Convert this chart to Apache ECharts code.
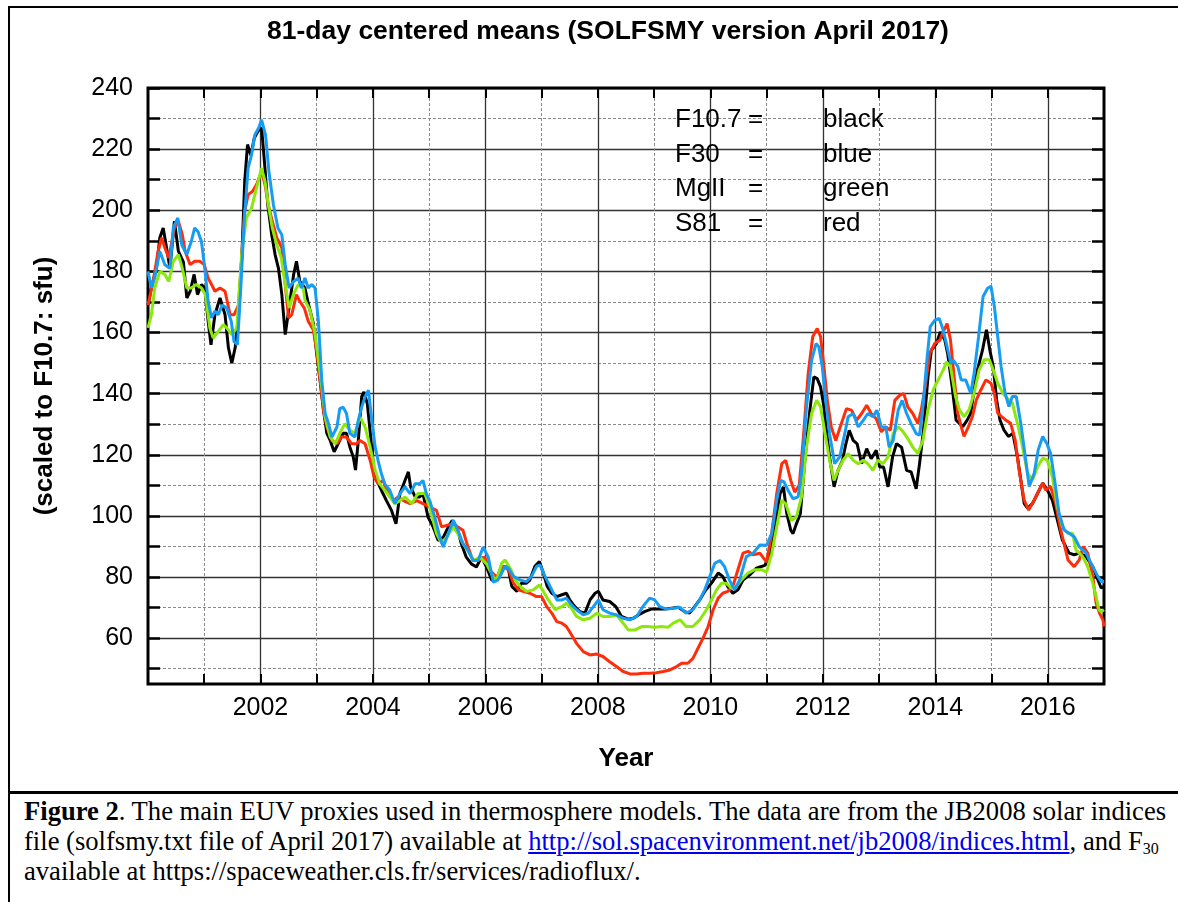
<!DOCTYPE html>
<html>
<head>
<meta charset="utf-8">
<script src="https://cdn.jsdelivr.net/npm/echarts@6/dist/echarts.min.js"></script>
<style>
  html, body { margin:0; padding:0; background:#fff; }
  #wrap { position:relative; width:1178px; height:902px; overflow:hidden; background:#fff; }
  #chart { position:absolute; left:0; top:0; width:1178px; height:790px; }
  #frame { position:absolute; left:8px; top:6px; width:1200px; height:920px; border-left:2px solid #000; border-top:2px solid #000; }
  #sep { position:absolute; left:8px; top:791px; width:1180px; height:3px; background:#000; }
  #cap { position:absolute; left:24px; top:796px; font-family:"Liberation Serif","Times New Roman",serif; font-size:26.6px; line-height:30px; white-space:nowrap; color:#000; }
  #cap a { color:#0000ee; text-decoration:underline; }
  #cap sub { font-size:16px; vertical-align:-4px; line-height:0; }
</style>
</head>
<body>
<div id="wrap">
  <div id="frame"></div>
  <div id="chart"></div>
  <div id="sep"></div>
  <div id="cap"><b>Figure 2</b>. The main EUV proxies used in thermosphere models. The data are from the JB2008 solar indices<br>file (solfsmy.txt file of April 2017) available at <a href="http://sol.spacenvironment.net/jb2008/indices.html">http://sol.spacenvironment.net/jb2008/indices.html</a>, and F<sub>30</sub><br>available at https://spaceweather.cls.fr/services/radioflux/.</div>
</div>
<script>
// ---- Data (year, value) ----
const f107 = [[2000.00,169],[2000.06,174.6],[2000.15,181],[2000.21,191],[2000.27,194.2],[2000.33,187.7],[2000.39,181],[2000.47,196.4],[2000.54,186.6],[2000.63,183],[2000.69,171.3],[2000.75,173.5],[2000.82,179],[2000.88,172.4],[2000.95,175.7],[2001.01,174.6],[2001.07,163.7],[2001.12,156],[2001.19,165.8],[2001.28,171.3],[2001.37,165.8],[2001.43,155],[2001.49,150],[2001.55,155],[2001.61,165.8],[2001.67,185.5],[2001.72,209.5],[2001.77,221.5],[2001.83,218],[2001.89,223.6],[2001.96,226],[2002.02,227],[2002.07,216],[2002.13,201.8],[2002.20,192],[2002.26,185.5],[2002.32,181],[2002.38,172.4],[2002.44,159.3],[2002.50,167],[2002.59,179],[2002.64,183.3],[2002.70,176.7],[2002.79,174.6],[2002.85,169.5],[2002.94,163],[2003.00,153],[2003.06,144.4],[2003.12,134.6],[2003.18,127],[2003.24,124.7],[2003.31,121],[2003.38,123.6],[2003.47,127],[2003.53,127],[2003.59,122.5],[2003.65,119.3],[2003.69,115],[2003.74,124.7],[2003.80,139],[2003.84,140.6],[2003.90,136.7],[2003.96,125.8],[2004.01,116],[2004.07,111.6],[2004.15,108.4],[2004.24,105],[2004.33,101.8],[2004.41,97.4],[2004.48,107.3],[2004.57,111.6],[2004.63,114.4],[2004.67,109.5],[2004.75,106.2],[2004.83,106.2],[2004.89,107.3],[2004.98,99.6],[2005.07,96.4],[2005.16,92],[2005.25,93],[2005.34,96.4],[2005.41,98.5],[2005.49,96.4],[2005.57,91],[2005.66,86.5],[2005.75,84.3],[2005.84,83.3],[2005.93,86.5],[2006.02,83.3],[2006.11,79],[2006.20,79],[2006.26,82.4],[2006.35,83.5],[2006.41,82.4],[2006.47,76.9],[2006.56,75.3],[2006.64,78],[2006.73,78],[2006.79,79],[2006.88,83.5],[2006.96,85.1],[2007.03,81.3],[2007.10,76.9],[2007.18,74.7],[2007.27,73.6],[2007.36,74.2],[2007.44,74.7],[2007.50,72.5],[2007.59,70.3],[2007.68,68.7],[2007.77,68.2],[2007.86,72.5],[2007.95,74.7],[2008.01,75.3],[2008.09,72.5],[2008.21,72],[2008.32,70.3],[2008.42,67.1],[2008.54,66.2],[2008.63,66.5],[2008.72,67.6],[2008.83,68.7],[2008.95,69.5],[2009.07,69.5],[2009.19,69.5],[2009.31,69.8],[2009.43,70.1],[2009.54,68.7],[2009.63,68.2],[2009.72,70.3],[2009.81,72.5],[2009.90,75.3],[2010.02,78],[2010.14,81.3],[2010.22,80.2],[2010.31,76.9],[2010.40,74.7],[2010.49,75.8],[2010.58,79],[2010.70,80.7],[2010.82,82.9],[2010.88,83.3],[2010.97,83.8],[2011.06,87.6],[2011.15,96.4],[2011.24,107.3],[2011.30,109.5],[2011.36,100.7],[2011.43,95.3],[2011.47,94.2],[2011.53,97.4],[2011.60,100.7],[2011.68,118.2],[2011.77,134.6],[2011.84,145.5],[2011.90,144.9],[2011.96,142.2],[2012.02,135.7],[2012.07,126.9],[2012.12,119.3],[2012.20,109.5],[2012.27,114.9],[2012.35,118.2],[2012.41,123.6],[2012.47,128],[2012.54,124.7],[2012.61,123.6],[2012.69,117.1],[2012.78,122],[2012.86,118.7],[2012.95,121.5],[2013.01,116],[2013.08,116],[2013.16,109.5],[2013.24,119.3],[2013.31,123.6],[2013.40,122.5],[2013.49,114.9],[2013.57,114.4],[2013.66,108.9],[2013.72,117.1],[2013.79,128],[2013.87,145.5],[2013.93,154.2],[2014.02,156.4],[2014.09,160.2],[2014.17,157.5],[2014.22,153.1],[2014.30,142.2],[2014.37,131.3],[2014.49,129.2],[2014.57,131.4],[2014.63,133.6],[2014.69,141.2],[2014.75,147.8],[2014.84,154.3],[2014.91,160.9],[2014.97,154.3],[2015.03,148.9],[2015.09,138],[2015.15,131.4],[2015.22,128.1],[2015.30,126],[2015.38,127],[2015.46,119.4],[2015.52,111.8],[2015.58,104.1],[2015.64,102.5],[2015.73,104.1],[2015.82,107.4],[2015.91,110.7],[2015.99,108.5],[2016.08,105.2],[2016.17,98.7],[2016.26,92.1],[2016.38,87.8],[2016.47,87.3],[2016.56,87.8],[2016.68,86.7],[2016.80,83.4],[2016.89,79.1],[2016.95,76.4],[2017.00,76.9]];

const f30 = [[2000.00,180],[2000.06,174.6],[2000.12,178],[2000.21,186.6],[2000.30,182.2],[2000.39,181],[2000.45,194.2],[2000.53,197.5],[2000.60,188.7],[2000.69,185.5],[2000.77,189.8],[2000.83,194.2],[2000.89,193],[2000.95,189.8],[2001.01,181],[2001.07,170.2],[2001.13,164.8],[2001.19,167],[2001.25,165.8],[2001.32,169],[2001.40,168],[2001.48,163.7],[2001.53,157],[2001.59,156],[2001.65,174.6],[2001.71,196.4],[2001.78,213.8],[2001.84,218],[2001.90,224.7],[2001.97,227],[2002.02,229.6],[2002.09,224.7],[2002.15,212.7],[2002.23,201.8],[2002.31,194.2],[2002.38,192],[2002.44,182.2],[2002.51,174.6],[2002.59,176.7],[2002.67,177.8],[2002.73,174.6],[2002.79,177.8],[2002.85,174.6],[2002.91,175.7],[2002.97,174.6],[2003.03,163.7],[2003.09,144.4],[2003.15,133.5],[2003.21,130.2],[2003.27,125.8],[2003.36,129.1],[2003.41,135.1],[2003.47,135.6],[2003.53,133.5],[2003.59,127],[2003.68,125.8],[2003.74,131.3],[2003.80,135.6],[2003.86,139],[2003.92,141.1],[2003.98,131.3],[2004.04,122.5],[2004.09,118.2],[2004.15,113.8],[2004.21,110.5],[2004.30,108.4],[2004.39,104],[2004.48,107.3],[2004.57,109.5],[2004.66,107.3],[2004.75,110.5],[2004.83,110.5],[2004.89,111.6],[2004.95,107.3],[2005.01,105],[2005.10,99.6],[2005.19,93],[2005.25,89.8],[2005.34,94.2],[2005.43,98.5],[2005.51,95.3],[2005.60,91],[2005.69,88.7],[2005.78,85.4],[2005.87,85.4],[2005.96,89.8],[2006.05,86.5],[2006.14,78.3],[2006.22,79],[2006.26,80.2],[2006.35,83.5],[2006.41,82.9],[2006.50,80.2],[2006.62,79],[2006.73,78.5],[2006.82,80.2],[2006.91,83.5],[2006.97,84],[2007.06,80.2],[2007.18,75.8],[2007.27,72.5],[2007.36,72.5],[2007.44,73.1],[2007.53,70.9],[2007.62,69.3],[2007.74,67.6],[2007.83,68.2],[2007.92,70.3],[2008.01,72.5],[2008.09,69.3],[2008.21,68.2],[2008.33,67.6],[2008.45,66.5],[2008.57,66],[2008.69,67.1],[2008.80,70.3],[2008.92,73.1],[2009.01,72.5],[2009.10,70.3],[2009.22,69.5],[2009.34,69.8],[2009.46,70.1],[2009.57,68.2],[2009.69,69.3],[2009.81,72.5],[2009.90,75.8],[2009.99,80.2],[2010.08,84.5],[2010.17,85.4],[2010.25,83.5],[2010.34,79],[2010.43,75.8],[2010.52,79],[2010.64,86.7],[2010.76,87.8],[2010.88,90.5],[2011.00,90.4],[2011.09,94.2],[2011.18,105.1],[2011.25,111.6],[2011.31,111.1],[2011.38,108.4],[2011.47,105.6],[2011.56,106.2],[2011.62,113.8],[2011.71,135.7],[2011.80,150.9],[2011.88,156.4],[2011.93,155.3],[2011.99,148.8],[2012.05,137.8],[2012.12,126.9],[2012.21,117.1],[2012.30,119.3],[2012.39,126.9],[2012.45,132.4],[2012.54,133.5],[2012.63,129.1],[2012.72,131.3],[2012.80,133.5],[2012.89,132.4],[2012.96,134.6],[2013.04,129.1],[2013.12,129.1],[2013.18,122.5],[2013.25,124.7],[2013.34,134.6],[2013.41,137.8],[2013.49,133.5],[2013.57,130.2],[2013.66,126.9],[2013.72,126.4],[2013.78,135.7],[2013.85,150.9],[2013.91,161.9],[2013.99,164],[2014.07,164.6],[2014.14,160.8],[2014.21,155.3],[2014.28,149.8],[2014.31,151.1],[2014.40,148.9],[2014.46,144.5],[2014.54,144.5],[2014.63,140.1],[2014.69,146.7],[2014.77,158.7],[2014.85,171.8],[2014.93,174.5],[2014.99,175.1],[2015.05,168.5],[2015.11,158.7],[2015.17,148.9],[2015.24,140.2],[2015.31,135.8],[2015.37,139.1],[2015.44,139.1],[2015.52,130.3],[2015.60,119.4],[2015.67,109.6],[2015.76,114],[2015.83,121.6],[2015.91,126],[2015.98,123.8],[2016.05,120.5],[2016.13,110.7],[2016.20,100.9],[2016.29,95.4],[2016.38,94.3],[2016.47,93.2],[2016.56,89.9],[2016.68,87.8],[2016.80,83.4],[2016.89,80.2],[2016.95,78.5],[2017.00,78.5]];

const mg2 = [[2000.00,161.5],[2000.06,165.8],[2000.12,174.6],[2000.21,180],[2000.30,179],[2000.37,176.7],[2000.45,183.3],[2000.54,185.5],[2000.61,181],[2000.69,174.6],[2000.77,174.6],[2000.86,175.7],[2000.95,174.6],[2001.02,172.4],[2001.10,161.5],[2001.16,158.2],[2001.25,160.4],[2001.34,162.6],[2001.40,161.5],[2001.49,159.3],[2001.58,161.5],[2001.665,185.5],[2001.75,197.5],[2001.84,200.7],[2001.93,207.3],[2002.02,213.8],[2002.08,209.5],[2002.14,201.8],[2002.21,194.2],[2002.29,188.7],[2002.37,184.4],[2002.44,175.7],[2002.51,168],[2002.585,172.4],[2002.67,175.7],[2002.76,174.6],[2002.79,170.6],[2002.88,167.3],[2002.97,159.7],[2003.03,151],[2003.09,142.2],[2003.15,132.4],[2003.24,125.8],[2003.33,123.6],[2003.41,127],[2003.50,130.2],[2003.59,128],[2003.68,127],[2003.77,132.4],[2003.86,129.1],[2003.95,122.5],[2004.04,114.9],[2004.12,110.5],[2004.21,108.4],[2004.30,106.2],[2004.39,104],[2004.48,105],[2004.57,106.2],[2004.69,104],[2004.80,107.3],[2004.92,107.3],[2005.01,102.9],[2005.13,94.2],[2005.22,91],[2005.31,93],[2005.43,96.4],[2005.51,94.2],[2005.60,91],[2005.72,87.6],[2005.80,85.4],[2005.90,86.5],[2006.02,84.3],[2006.14,80],[2006.20,79],[2006.29,84.5],[2006.35,85.6],[2006.44,82.9],[2006.53,79],[2006.62,76.9],[2006.73,75.3],[2006.85,75.8],[2006.96,77.4],[2007.03,75.3],[2007.12,72.5],[2007.24,69.3],[2007.36,70.3],[2007.44,71.4],[2007.53,69.8],[2007.62,67.1],[2007.74,66],[2007.86,66.5],[2007.98,68.2],[2008.09,67.1],[2008.21,67.1],[2008.33,67.6],[2008.45,64.9],[2008.54,62.7],[2008.66,62.7],[2008.78,63.8],[2008.89,63.8],[2009.01,63.6],[2009.13,63.8],[2009.25,63.6],[2009.34,64.9],[2009.46,66],[2009.57,63.8],[2009.69,63.8],[2009.81,66],[2009.93,69.3],[2010.02,72.5],[2010.11,75.8],[2010.20,78],[2010.28,78],[2010.37,76.4],[2010.46,76.9],[2010.55,79],[2010.67,81.3],[2010.79,82.4],[2010.91,82.4],[2011.00,81.6],[2011.09,87.6],[2011.18,96.4],[2011.27,105.1],[2011.34,104],[2011.44,98.5],[2011.53,99.6],[2011.62,106.2],[2011.71,122.5],[2011.80,133.5],[2011.89,137.8],[2011.96,135.7],[2012.04,126.9],[2012.12,118.2],[2012.20,111.6],[2012.27,114.9],[2012.36,118.2],[2012.45,120.4],[2012.54,118.2],[2012.63,117.1],[2012.72,118.2],[2012.80,117.1],[2012.89,114.9],[2012.98,118.2],[2013.07,117.1],[2013.16,119.3],[2013.25,126.9],[2013.34,129.1],[2013.41,128],[2013.51,125.3],[2013.60,122.5],[2013.69,120.4],[2013.78,124.7],[2013.87,134.6],[2013.96,141.1],[2014.05,144.4],[2014.14,147.7],[2014.20,150.4],[2014.27,148.8],[2014.36,139.1],[2014.43,134.7],[2014.51,132.5],[2014.60,134.7],[2014.69,140.2],[2014.78,147.8],[2014.87,151.1],[2014.96,151.1],[2015.03,147.8],[2015.11,143.4],[2015.20,140.2],[2015.28,138.5],[2015.37,136.9],[2015.46,130.3],[2015.55,122.7],[2015.64,114],[2015.73,111.8],[2015.82,116.1],[2015.91,118.9],[2015.99,118.3],[2016.08,112.9],[2016.17,103],[2016.26,96.5],[2016.35,94.3],[2016.44,94.3],[2016.50,88.9],[2016.62,86.7],[2016.71,83.4],[2016.80,78],[2016.86,73.6],[2016.91,69.3],[2016.95,68.7],[2017.00,69.3]];

const s81 = [[2000.00,169],[2000.09,176.7],[2000.18,186.6],[2000.24,191],[2000.30,187.7],[2000.37,184.4],[2000.47,194.2],[2000.54,196.4],[2000.61,192],[2000.66,186.6],[2000.75,182.2],[2000.83,183.3],[2000.92,183.3],[2001.00,182.2],[2001.07,177.8],[2001.13,175.7],[2001.19,173.5],[2001.28,174.6],[2001.37,173.5],[2001.46,165.8],[2001.53,165.8],[2001.61,169],[2001.67,185.5],[2001.72,199.7],[2001.78,205.1],[2001.86,206.2],[2001.93,208.4],[2002.02,212.7],[2002.08,208.4],[2002.14,201.8],[2002.21,196.4],[2002.29,191],[2002.38,187.7],[2002.44,175.7],[2002.50,164.8],[2002.555,165.8],[2002.64,172.4],[2002.70,170.2],[2002.78,168],[2002.85,163.7],[2002.94,160.8],[2003.00,154.2],[2003.06,144.4],[2003.12,134.6],[2003.18,129.1],[2003.27,124.7],[2003.36,123.6],[2003.44,125.8],[2003.53,125.8],[2003.62,123.6],[2003.71,123.6],[2003.77,124.7],[2003.86,123.6],[2003.95,118.2],[2004.02,112.7],[2004.09,110.5],[2004.18,111.6],[2004.27,107.3],[2004.36,105],[2004.45,106.2],[2004.54,105],[2004.66,104],[2004.78,105],[2004.89,104],[2005.01,102.9],[2005.13,101.8],[2005.22,96.4],[2005.31,96.9],[2005.43,97.4],[2005.51,96.4],[2005.60,95.3],[2005.69,89.8],[2005.78,85.4],[2005.87,85.4],[2005.99,86.5],[2006.08,82.2],[2006.20,80],[2006.32,83.5],[2006.41,82.4],[2006.50,78],[2006.59,75.8],[2006.67,75.3],[2006.79,74.7],[2006.91,73.6],[2007.00,73.6],[2007.09,70.3],[2007.18,68.2],[2007.27,65.4],[2007.36,64.9],[2007.44,63.8],[2007.53,61.1],[2007.62,58.3],[2007.74,55.6],[2007.86,54.5],[2007.98,54.8],[2008.09,54],[2008.21,52.3],[2008.33,50.7],[2008.45,49.1],[2008.57,48.3],[2008.69,48.3],[2008.80,48.5],[2008.92,48.5],[2009.04,48.7],[2009.16,49.1],[2009.28,49.6],[2009.40,50.7],[2009.49,51.8],[2009.60,51.8],[2009.69,53.4],[2009.78,56.7],[2009.87,60],[2009.96,63.8],[2010.05,69.3],[2010.14,73.1],[2010.22,74.7],[2010.31,75.3],[2010.40,76.9],[2010.49,82.4],[2010.58,87.8],[2010.67,88.4],[2010.76,87.3],[2010.88,87.8],[2011.00,84.9],[2011.09,94.2],[2011.18,107.3],[2011.27,117.1],[2011.34,118.2],[2011.43,111.6],[2011.50,107.8],[2011.58,110],[2011.65,124.7],[2011.74,146.6],[2011.82,158.6],[2011.90,161.3],[2011.96,158.6],[2012.02,148.8],[2012.08,137.8],[2012.15,129.1],[2012.23,124.7],[2012.33,130.2],[2012.42,135.1],[2012.51,134.6],[2012.60,131.3],[2012.69,133.5],[2012.78,136.2],[2012.86,133.5],[2012.95,131.8],[2013.04,127.5],[2013.12,129.1],[2013.20,128],[2013.28,137.8],[2013.37,139.5],[2013.44,140],[2013.51,135.7],[2013.60,133.5],[2013.69,130.2],[2013.75,134.6],[2013.83,143.3],[2013.90,153.1],[2013.99,156.4],[2014.08,157.5],[2014.14,160.2],[2014.21,162.9],[2014.27,157.5],[2014.34,144.5],[2014.40,133.6],[2014.46,129.2],[2014.51,126],[2014.59,129.2],[2014.66,132.5],[2014.73,138],[2014.81,141.2],[2014.90,144.5],[2014.99,143.4],[2015.05,140.2],[2015.11,133.6],[2015.18,132.5],[2015.25,131.4],[2015.34,130.3],[2015.42,124.9],[2015.49,115],[2015.58,105.2],[2015.66,101.9],[2015.76,105.2],[2015.85,108.5],[2015.91,110.7],[2015.96,108.5],[2016.05,109.6],[2016.14,104.1],[2016.23,95.4],[2016.36,85.6],[2016.47,83.4],[2016.56,85.6],[2016.63,90],[2016.71,87.8],[2016.80,80.2],[2016.86,71.4],[2016.92,68.2],[2016.98,66],[2017.00,63.8]];

// ---- Axis ticks and labels ----
const xTickYears  = [2000,2001,2002,2003,2004,2005,2006,2007,2008,2009,2010,2011,2012,2013,2014,2015,2016,2017];
const xMajorYears = [2002,2004,2006,2008,2010,2012,2014,2016];
const xLabelYears = [2002,2004,2006,2008,2010,2012,2014,2016];
const yTickValues  = [50,60,70,80,90,100,110,120,130,140,150,160,170,180,190,200,210,220,230,240];
const yMajorValues = [60,80,100,120,140,160,180,200,220,240];
const yLabelValues = [60,80,100,120,140,160,180,200,220,240];

const titleText = '81-day centered means (SOLFSMY version April 2017)';
const xName = 'Year';
const yName = '(scaled to F10.7: sfu)';
const keyNames  = ['F10.7', 'F30', 'MgII', 'S81'];
const keyColors = ['black', 'blue', 'green', 'red'];

const SANS = '"Liberation Sans", Arial, Helvetica, sans-serif';
const COLORS = { black:'#000000', blue:'#169cf2', green:'#8ae80a', red:'#ff2d0a' };

const chart = echarts.init(document.getElementById('chart'), null, { renderer:'canvas' });

const grid = { left:148, top:88, width:956, height:596, show:true, borderColor:'#000', borderWidth:3, backgroundColor:'transparent', z:5 };

const dashed = { show:true, lineStyle:{ color:'#8a8a8a', width:1, type:[3,2] } };
const solid  = { show:true, lineStyle:{ color:'#333', width:1.3, type:'solid' } };

const keyGraphics = [];
const keyRowsY = [120, 155, 189, 224];
keyNames.forEach((n, i) => {
  keyGraphics.push({ type:'text', x:675, y:keyRowsY[i], style:{ text:n, font:'26px ' + SANS, fill:'#000', align:'left', verticalAlign:'middle' }, z:20 });
  keyGraphics.push({ type:'text', x:748, y:keyRowsY[i], style:{ text:'=', font:'26px ' + SANS, fill:'#000', align:'left', verticalAlign:'middle' }, z:20 });
  keyGraphics.push({ type:'text', x:823, y:keyRowsY[i], style:{ text:keyColors[i], font:'26px ' + SANS, fill:'#000', align:'left', verticalAlign:'middle' }, z:20 });
});

const option = {
  animation:false,
  backgroundColor:'transparent',
  grid: grid,
  graphic: [
    { type:'text', x:608, y:32, style:{ text:titleText, font:'bold 26.5px ' + SANS, fill:'#000', align:'center', verticalAlign:'middle' }, z:20 }
  ].concat(keyGraphics),
  xAxis: [
    { type:'value', min:2000, max:2017, position:'bottom',
      axisLine:{ show:false },
      axisTick:{ show:true, inside:true, length:10, customValues:xTickYears, lineStyle:{ color:'#000', width:2 } },
      axisLabel:{ show:true, customValues:xLabelYears, fontSize:25, fontFamily:SANS, color:'#000', margin:12, formatter:(v)=>String(v) },
      splitLine: dashed,
      name:xName, nameLocation:'middle', nameGap:62,
      nameTextStyle:{ fontSize:26, fontWeight:'bold', fontFamily:SANS, color:'#000' } },
    { type:'value', min:2000, max:2017, position:'top',
      axisLine:{ show:false },
      axisTick:{ show:true, inside:true, length:10, customValues:xTickYears, lineStyle:{ color:'#000', width:2 } },
      axisLabel:{ show:false }, splitLine:{ show:false } },
    { type:'value', min:2000, max:2017, position:'bottom',
      axisLine:{ show:false },
      axisTick:{ show:false, customValues:xMajorYears },
      axisLabel:{ show:false }, splitLine: solid }
  ],
  yAxis: [
    { type:'value', min:45, max:240, position:'left',
      axisLine:{ show:false },
      axisTick:{ show:true, inside:true, length:12, customValues:yTickValues, lineStyle:{ color:'#000', width:2.5 } },
      axisLabel:{ show:true, customValues:yLabelValues, fontSize:25, fontFamily:SANS, color:'#000', margin:15, formatter:(v)=>String(v) },
      splitLine: dashed,
      name:yName, nameLocation:'middle', nameGap:90, nameRotate:90,
      nameTextStyle:{ fontSize:26, fontWeight:'bold', fontFamily:SANS, color:'#000' } },
    { type:'value', min:45, max:240, position:'right',
      axisLine:{ show:false },
      axisTick:{ show:true, inside:true, length:12, customValues:yTickValues, lineStyle:{ color:'#000', width:2.5 } },
      axisLabel:{ show:false }, splitLine:{ show:false } },
    { type:'value', min:45, max:240, position:'left',
      axisLine:{ show:false },
      axisTick:{ show:false, customValues:yMajorValues },
      axisLabel:{ show:false }, splitLine: solid }
  ],
  series: [
    { name:'F10.7', type:'line', data:f107, showSymbol:false, symbol:'none', lineStyle:{ color:COLORS.black, width:3 }, z:10 },
    { name:'S81',   type:'line', data:s81,  showSymbol:false, symbol:'none', lineStyle:{ color:COLORS.red, width:3 }, z:11 },
    { name:'MgII',  type:'line', data:mg2,  showSymbol:false, symbol:'none', lineStyle:{ color:COLORS.green, width:3 }, z:12 },
    { name:'F30',   type:'line', data:f30,  showSymbol:false, symbol:'none', lineStyle:{ color:COLORS.blue, width:3 }, z:13 }
  ]
};
chart.setOption(option);
</script>
</body>
</html>
